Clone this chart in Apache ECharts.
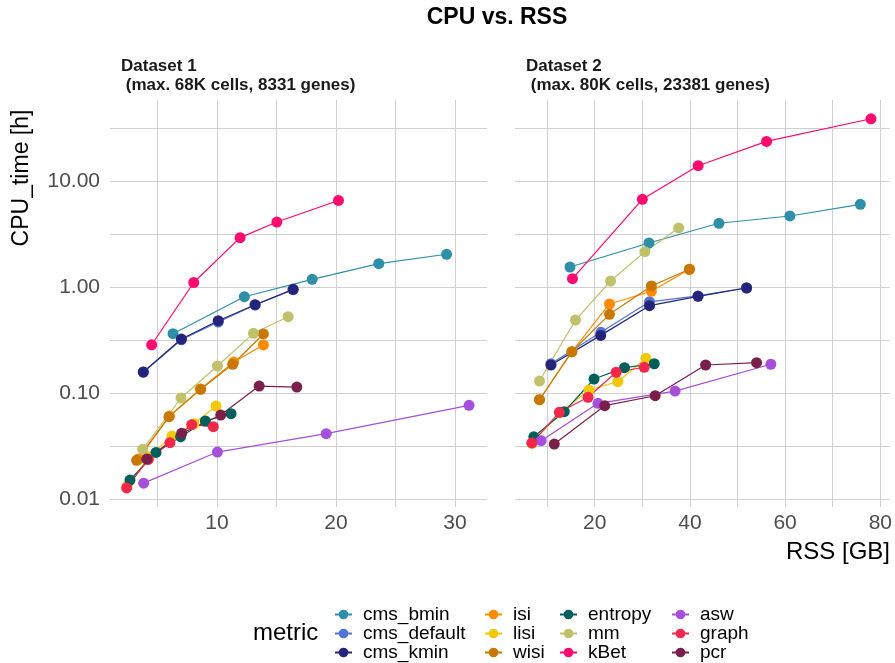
<!DOCTYPE html>
<html>
<head>
<meta charset="utf-8">
<title>CPU vs. RSS</title>
<script src="https://cdn.jsdelivr.net/npm/echarts@6/dist/echarts.min.js"></script>
<style>
  html, body { margin: 0; padding: 0; background: #fff; }
  #chart { width: 895px; height: 663px; }
</style>
</head>
<body>
<div id="chart"></div>
<script>
// metrics, in legend order
const metrics = ["cms_bmin", "cms_default", "cms_kmin", "isi", "lisi", "wisi",
  "entropy", "mm", "kBet", "asw", "graph", "pcr"];

// [RSS GB, CPU h] per metric, Dataset 1
const d1_cms_bmin = [[6.3, 0.365], [12.3, 0.815], [18.0, 1.19], [23.6, 1.67], [29.3, 2.05]];
const d1_cms_default = [[3.8, 0.158], [7.0, 0.32], [10.1, 0.47], [13.2, 0.68], [16.4, 0.95]];
const d1_cms_kmin = [[3.8, 0.159], [7.0, 0.325], [10.1, 0.484], [13.2, 0.685], [16.4, 0.957]];
const d1_isi = [[3.4, 0.024], [6.0, 0.061], [8.6, 0.11], [11.4, 0.197], [13.9, 0.286]];
const d1_lisi = [[2.45, 0.0134], [4.3, 0.0252], [6.2, 0.0395], [8.06, 0.0516], [9.92, 0.0759]];
const d1_wisi = [[3.24, 0.0233], [5.96, 0.0602], [8.63, 0.109], [11.32, 0.188], [13.9, 0.363]];
const d1_entropy = [[2.68, 0.0152], [4.87, 0.0277], [6.94, 0.039], [9.02, 0.0548], [11.18, 0.0642]];
const d1_mm = [[3.75, 0.0296], [6.97, 0.0903], [10.03, 0.181], [13.06, 0.368], [15.98, 0.528]];
const d1_kBet = [[4.5, 0.287], [8.04, 1.11], [11.94, 2.94], [15.03, 4.13], [20.21, 6.6]];
const d1_asw = [[3.83, 0.0142], [10.03, 0.0279], [19.18, 0.0416], [31.19, 0.077]];
const d1_graph = [[2.4, 0.0128], [4.22, 0.0238], [6.04, 0.0342], [7.87, 0.0506], [9.69, 0.0484]];
const d1_pcr = [[4.1, 0.024], [7.03, 0.042], [10.31, 0.0624], [13.54, 0.117], [16.71, 0.1145]];

// Dataset 2
const d2_cms_bmin = [[14.8, 1.554], [31.4, 2.62], [46.1, 4.02], [61.0, 4.71], [75.8, 6.07]];
const d2_cms_default = [[10.8, 0.19], [21.3, 0.376], [31.5, 0.73], [41.7, 0.83], [51.9, 0.99]];
const d2_cms_kmin = [[10.8, 0.185], [21.25, 0.352], [31.5, 0.671], [41.7, 0.822], [51.9, 0.985]];
const d2_isi = [[8.4, 0.087], [15.2, 0.247], [23.1, 0.696], [31.9, 0.917], [39.9, 1.48]];
const d2_lisi = [[6.8, 0.0338], [12.7, 0.0656], [18.8, 0.1074], [24.85, 0.1287], [30.75, 0.2138]];
const d2_wisi = [[8.4, 0.087], [15.2, 0.247], [23.1, 0.556], [31.9, 1.03], [39.9, 1.48]];
const d2_entropy = [[7.2, 0.0389], [13.6, 0.0671], [19.85, 0.1364], [26.25, 0.1745], [32.5, 0.19]];
const d2_mm = [[8.4, 0.1306], [15.96, 0.491], [23.33, 1.147], [30.54, 2.17], [37.63, 3.63]];
const d2_kBet = [[15.33, 1.205], [30.0, 6.77], [41.73, 14.03], [56.1, 23.8], [78.04, 38.9]];
const d2_asw = [[8.75, 0.0357], [20.69, 0.0805], [36.88, 0.105], [57.0, 0.188]];
const d2_graph = [[6.8, 0.034], [12.56, 0.0662], [18.6, 0.0917], [24.5, 0.158], [30.4, 0.176]];
const d2_pcr = [[11.5, 0.0332], [22.1, 0.0764], [32.7, 0.0949], [43.3, 0.185], [54.0, 0.1944]];

// tick / label values
const yLabels = [0.01, 0.1, 1, 10];
const yGrid = [0.01, 0.0316, 0.1, 0.316, 1, 3.16, 10, 31.6];
const x1Labels = [10, 20, 30];
const x1Grid = [5, 10, 15, 20, 25, 30];
const x2Labels = [20, 40, 60, 80];
const x2Grid = [10, 20, 30, 40, 50, 60, 70, 80];

const panelData = [
  [d1_cms_bmin, d1_cms_default, d1_cms_kmin, d1_isi, d1_lisi, d1_wisi,
    d1_entropy, d1_mm, d1_kBet, d1_asw, d1_graph, d1_pcr],
  [d2_cms_bmin, d2_cms_default, d2_cms_kmin, d2_isi, d2_lisi, d2_wisi,
    d2_entropy, d2_mm, d2_kBet, d2_asw, d2_graph, d2_pcr]
];

const palette = ["#2E8FA8", "#4F74D6", "#25247A", "#FF8C00", "#F2C80A", "#C87800",
  "#005E5B", "#BFC26A", "#FF0A6E", "#A64FDB", "#F2284A", "#7A1F4B"];

const gridColor = "#d0d0d0";
const tickColor = "#4d4d4d";

const chart = echarts.init(document.getElementById("chart"));

function xAxis(idx, min, max, labels, grid) {
  return {
    type: "value",
    gridIndex: idx,
    min: min,
    max: max,
    axisLine: { show: false },
    axisTick: { show: false, customValues: grid },
    axisLabel: { customValues: labels, fontSize: 21, color: tickColor, margin: 6, fontFamily: "Liberation Sans" },
    splitLine: { show: true, lineStyle: { color: gridColor, width: 1 } }
  };
}

function yAxis(idx, showLabel) {
  return {
    type: "log",
    logBase: 10,
    gridIndex: idx,
    min: 0.00846,
    max: 58.5,
    axisLine: { show: false },
    axisTick: { show: false, customValues: yGrid },
    axisLabel: {
      show: showLabel,
      customValues: yLabels,
      fontSize: 21,
      color: tickColor,
      margin: 10,
      fontFamily: "Liberation Sans",
      formatter: (v) => Number(v).toFixed(2)
    },
    splitLine: { show: true, lineStyle: { color: gridColor, width: 1 } }
  };
}

const series = [];
panelData.forEach((panel, p) => {
  panel.forEach((pts, i) => {
    series.push({
      name: metrics[i],
      type: "line",
      xAxisIndex: p,
      yAxisIndex: p,
      data: pts,
      symbol: "circle",
      symbolSize: 11,
      color: palette[i],
      lineStyle: { width: 1.2 },
      itemStyle: { color: palette[i] },
      emphasis: { disabled: true },
      animation: false
    });
  });
});

const legendCols = [
  { left: 334, names: metrics.slice(0, 3) },
  { left: 484, names: metrics.slice(3, 6) },
  { left: 559, names: metrics.slice(6, 9) },
  { left: 671, names: metrics.slice(9, 12) }
];

chart.setOption({
  animation: false,
  backgroundColor: "#ffffff",
  textStyle: { fontFamily: "Liberation Sans" },
  title: [
    { text: "CPU vs. RSS", left: 497, textAlign: "center", top: 6, padding: 0,
      textStyle: { fontSize: 23, fontWeight: "bold", color: "#000" } },
    { text: "Dataset 1\n (max. 68K cells, 8331 genes)", left: 121, top: 57, padding: 0,
      textStyle: { fontSize: 17, fontWeight: "bold", color: "#1a1a1a", lineHeight: 19 } },
    { text: "Dataset 2\n (max. 80K cells, 23381 genes)", left: 526, top: 57, padding: 0,
      textStyle: { fontSize: 17, fontWeight: "bold", color: "#1a1a1a", lineHeight: 19 } }
  ],
  grid: [
    { left: 110, right: 408, top: 100, bottom: 156 },
    { left: 515, right: 2, top: 100, bottom: 156 }
  ],
  xAxis: [
    xAxis(0, 1.0, 32.7, x1Labels, x1Grid),
    xAxis(1, 3.25, 81.9, x2Labels, x2Grid)
  ],
  yAxis: [yAxis(0, true), yAxis(1, false)],
  legend: legendCols.map((c) => ({
    data: c.names,
    orient: "vertical",
    left: c.left,
    top: 605,
    itemWidth: 17,
    itemHeight: 12,
    itemGap: 0,
    padding: 0,
    textStyle: { fontSize: 19, lineHeight: 19, color: "#000", padding: [0, 0, 0, 6] }
  })),
  graphic: [
    { type: "text", left: 253, top: 621,
      style: { text: "metric", fontSize: 24, fill: "#000", fontFamily: "Liberation Sans" } },
    { type: "text", right: 5, top: 540,
      style: { text: "RSS [GB]", fontSize: 24, fill: "#000", fontFamily: "Liberation Sans" } },
    { type: "text", x: 22, y: 178, rotation: Math.PI / 2,
      style: { text: "CPU_time [h]", fontSize: 23, fill: "#000", fontFamily: "Liberation Sans",
        align: "center", verticalAlign: "middle" } }
  ],
  series: series
});
</script>
</body>
</html>
